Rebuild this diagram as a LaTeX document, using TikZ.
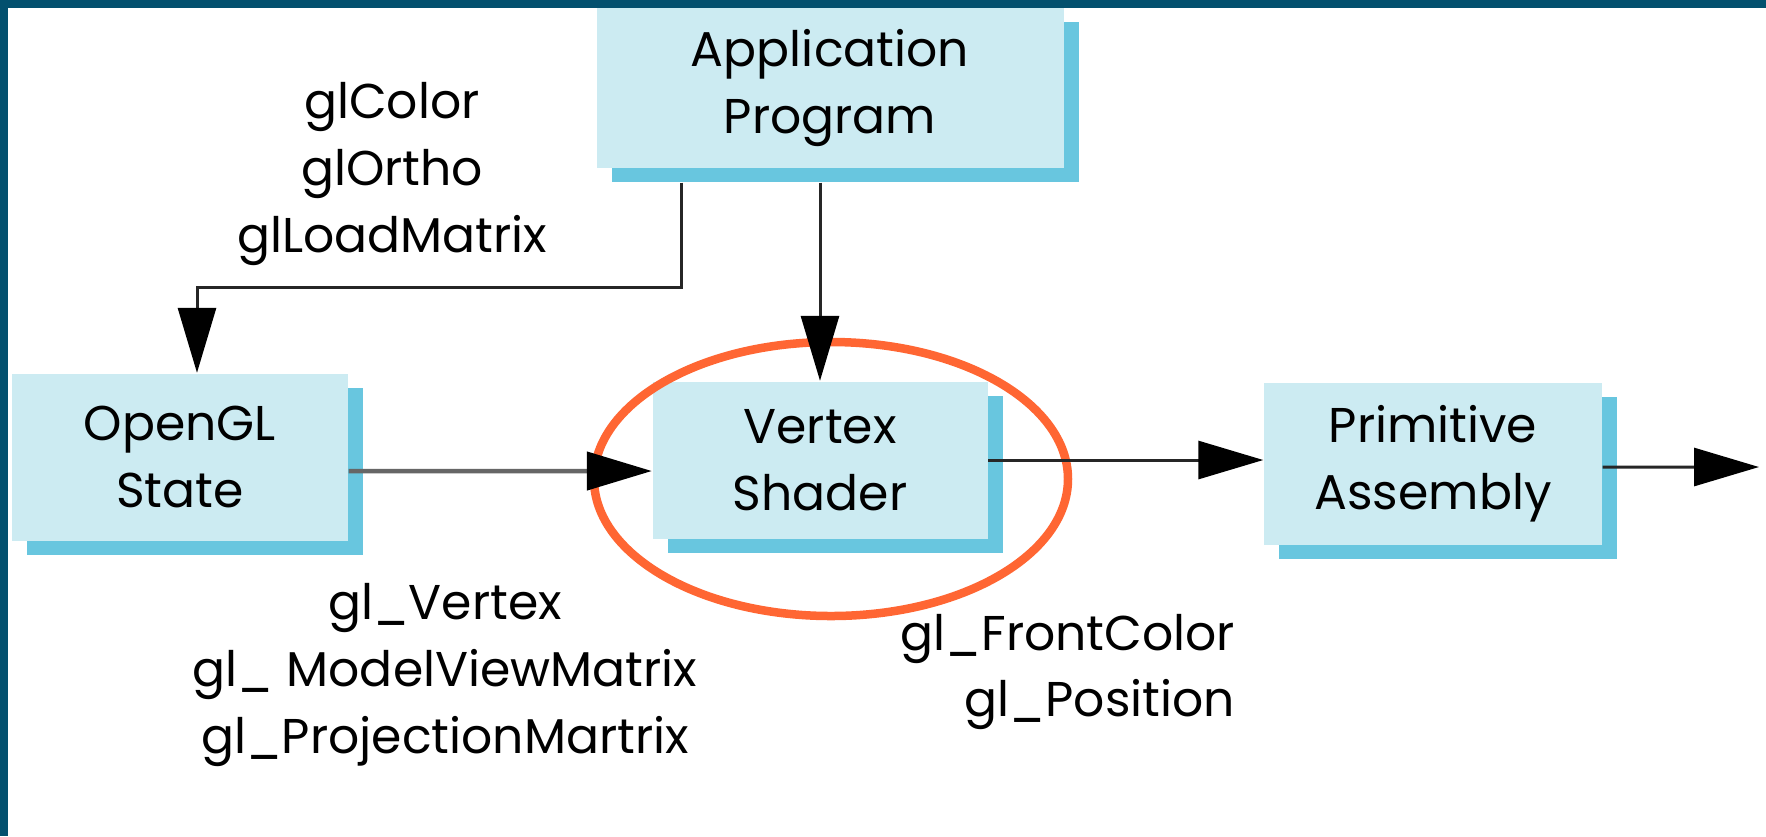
\documentclass[tikz,border=0pt]{standalone}
\usepackage{fontspec}
\setmainfont{Poppins}
\usetikzlibrary{arrows.meta,shadows}

\definecolor{boxfill}{HTML}{CCEBF2}
\definecolor{boxshade}{HTML}{68C6DF}
\definecolor{frame}{HTML}{03506E}
\definecolor{ring}{HTML}{FF6633}

\begin{document}
\begin{tikzpicture}[every node/.style={inner sep=1.5pt, font=\fontsize{13.9}{19}\selectfont},
    stage/.style={fill=boxfill, align=center, minimum width=3.36cm, minimum height=1.6cm,
      drop shadow={shadow xshift=1.5mm, shadow yshift=-1.4mm, fill=boxshade, opacity=1}},
    flow/.style={line width=0.3mm, draw=black!85, -{Triangle[length=6.5mm,width=3.8mm,color=black]}}]
      \useasboundingbox (0,0) rectangle (17.66,-8.36);
      \fill[white] (0,0) rectangle (17.66,-8.36);

      \node[stage, minimum width=4.67cm, minimum height=1.6cm] (app) at (8.30,-0.88) {Application\\Program};
      \node[stage, minimum height=1.67cm] (state) at (1.80,-4.57) {OpenGL\\State};
      \node[stage, minimum width=3.35cm, minimum height=1.57cm] (vertex) at (8.20,-4.60) {Vertex\\Shader};
      \node[stage, minimum width=3.38cm, minimum height=1.62cm] (prim) at (14.33,-4.64) {Primitive\\Assembly};

      \node[align=center] (calls) at (3.92,-1.74) {glColor\\glOrtho\\glLoadMatrix};
      \node[align=center] (uniforms) at (4.45,-6.75) {gl\_Vertex\\gl\_ ModelViewMatrix\\gl\_ProjectionMartrix};
      \node[align=right, anchor=east] (varyings) at (12.41,-6.72) {gl\_FrontColor\\gl\_Position};

      \coordinate (bend1) at (6.81,-2.87);
      \coordinate (bend2) at (1.97,-2.87);
      \coordinate (out) at (17.59,-4.67);

      \draw[ring, line width=0.85mm] (8.31,-4.79) ellipse (2.37 and 1.37);

      \draw[flow] ([yshift=-1.4mm]app.south -| bend1) -- (bend1) -- (bend2) -- (bend2 |- state.north);
      \draw[flow] ([yshift=-1.4mm]app.south -| vertex.north) -- (vertex.north);
      \draw[flow, line width=0.45mm, draw=black!60] ([yshift=-1.4mm]state.east) -- ([yshift=-1.1mm]vertex.west);
      \draw[flow] (vertex.east) -- (vertex.east -| prim.west);
      \draw[flow] ([yshift=-0.3mm]prim.east) -- (out);

      % frame along the top and left edges
      \fill[frame] (0,0) rectangle (17.66,-0.08);
      \fill[frame] (0,0) rectangle (0.08,-8.36);
    \end{tikzpicture}
\end{document}
